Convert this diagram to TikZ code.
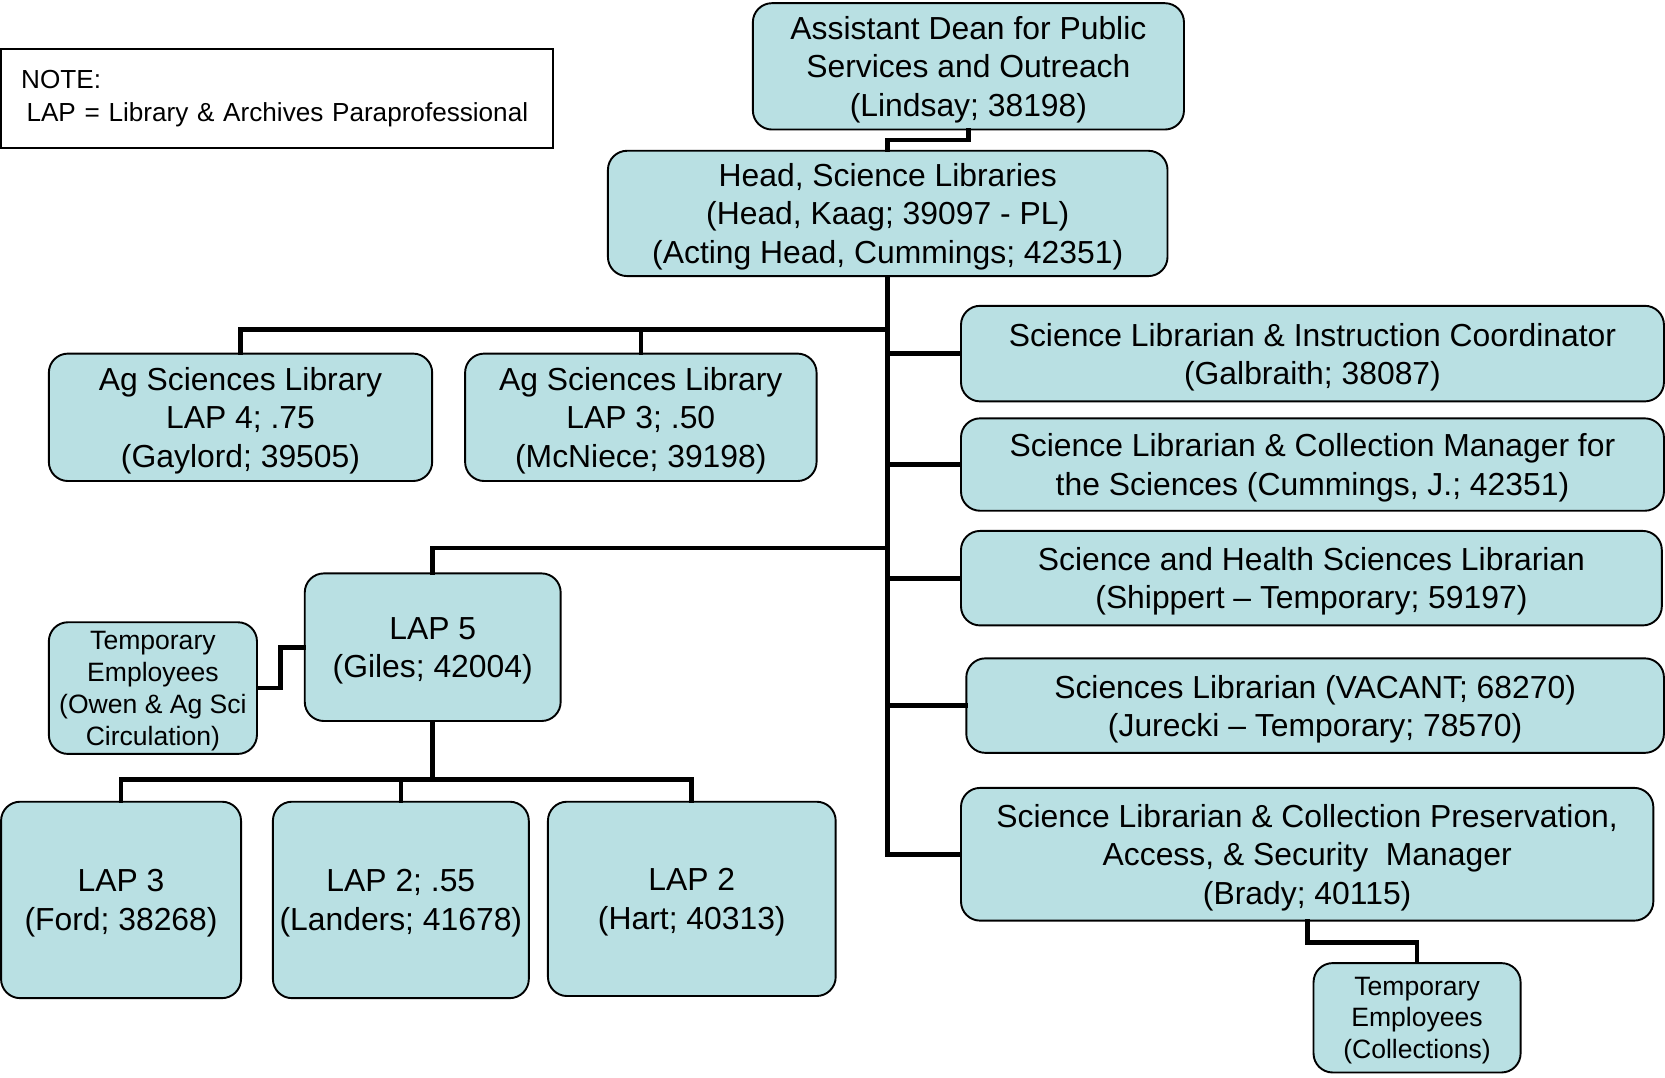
\documentclass[tikz,border=0pt]{standalone}
\usepackage{fontspec}
\setmainfont{Liberation Sans}
\usetikzlibrary{positioning,calc}
\definecolor{boxfill}{RGB}{185,224,227}
\tikzset{
  box/.style={draw, line width=0.9pt, rounded corners=9pt, fill=boxfill, align=center,
    inner sep=0pt, font=\fontsize{15}{18}\selectfont, text depth=-0.8pt},
  smallbox/.style={box, font=\fontsize{12.5}{15}\selectfont, text depth=-1.4pt},
  conn/.style={line width=2.2pt, line cap=rect},
}
\begin{document}
\begin{tikzpicture}[x=0.5pt,y=-0.5pt]
    \useasboundingbox (0,0) rectangle (1568,1015);

    % Hinweis
    \node[draw, line width=0.9pt, minimum width=260pt, minimum height=46.5pt, inner xsep=9.5pt,
      inner ysep=0pt, text width=241pt, align=left, font=\fontsize{12.3}{15.5}\selectfont]
      (note) at (261,92.5) {NOTE:\\\hspace{2.5pt}LAP = Library \& Archives Paraprofessional};

    % Leitung
    \node[box, minimum width=203pt, minimum height=59.5pt] (dean) at (912,62.5)
      {Assistant Dean for Public\\Services and Outreach\\(Lindsay; 38198)};
    \node[box, minimum width=263.5pt, minimum height=59pt] (head) at (836,201)
      {Head, Science Libraries\\(Head, Kaag; 39097 - PL)\\(Acting Head, Cummings; 42351)};

    % Ag Sciences
    \node[box, minimum width=180.5pt, minimum height=60pt] (agfour) at (226.5,393)
      {Ag Sciences Library\\LAP 4; .75\\(Gaylord; 39505)};
    \node[box, minimum width=165.5pt, minimum height=60pt] (agthree) at (603.5,393)
      {Ag Sciences Library\\LAP 3; .50\\(McNiece; 39198)};

    % Bibliothekare
    \node[box, minimum width=331pt, minimum height=45pt] (sone) at (1236,333)
      {Science Librarian \& Instruction Coordinator\\(Galbraith; 38087)};
    \node[box, minimum width=331pt, minimum height=43.5pt] (stwo) at (1236,437.5)
      {Science Librarian \& Collection Manager for\\the Sciences (Cummings, J.; 42351)};
    \node[box, minimum width=330pt, minimum height=44.5pt] (sthree) at (1235,544.5)
      {Science and Health Sciences Librarian\\(Shippert -- Temporary; 59197)};
    \node[box, minimum width=328.5pt, minimum height=44.5pt] (sfour) at (1238.5,664.5)
      {Sciences Librarian (VACANT; 68270)\\(Jurecki -- Temporary; 78570)};
    \node[box, minimum width=326pt, minimum height=62.5pt] (sfive) at (1231,804.5)
      {Science Librarian \& Collection Preservation,\\Access, \& Security\ \ Manager\\(Brady; 40115)};
    \node[smallbox, minimum width=97.5pt, minimum height=51.5pt] (temptwo) at (1334.5,958.5)
      {Temporary\\Employees\\(Collections)};

    % LAP 5 und Mitarbeiter
    \node[box, minimum width=120.5pt, minimum height=69.5pt] (lapfive) at (407.5,609.5)
      {LAP 5\\(Giles; 42004)};
    \node[smallbox, minimum width=98pt, minimum height=62pt] (tempone) at (144,648)
      {Temporary\\Employees\\(Owen \& Ag Sci\\Circulation)};
    \node[box, minimum width=113pt, minimum height=92.5pt] (lapthree) at (114,847.5)
      {LAP 3\\(Ford; 38268)};
    \node[box, minimum width=120.5pt, minimum height=92.5pt] (laptwoa) at (377.5,847.5)
      {LAP 2; .55\\(Landers; 41678)};
    \node[box, minimum width=135.5pt, minimum height=91.5pt] (laptwob) at (651.5,846.5)
      {LAP 2\\(Hart; 40313)};

    % Verbindungen
    \draw[conn] (dean.south) -- ++(0,9) -| (head.north);
    \draw[conn] (head.south) |- (sfive.west);
    \foreach \n in {sone,stwo,sthree,sfour}
      \draw[conn] (\n.west -| head.south) -- (\n.west);
    \draw[conn] (agfour.north) -- ++(0,-22) -| (head.south);
    \draw[conn] (agthree.north) -- ++(0,-22);
    \draw[conn] (lapfive.north) -- ++(0,-23) -| (head.south);
    \draw[conn] (lapfive.west) -- ++(-22,0) |- (tempone.east);
    \draw[conn] (lapfive.south) -- ++(0,54) coordinate (lapbar);
    \draw[conn] (lapthree.north) |- (lapbar) -| (laptwob.north);
    \draw[conn] (laptwoa.north) -- (laptwoa.north |- lapbar);
    \draw[conn] (sfive.south) -- ++(0,20) -| (temptwo.north);

\end{tikzpicture}
\end{document}
